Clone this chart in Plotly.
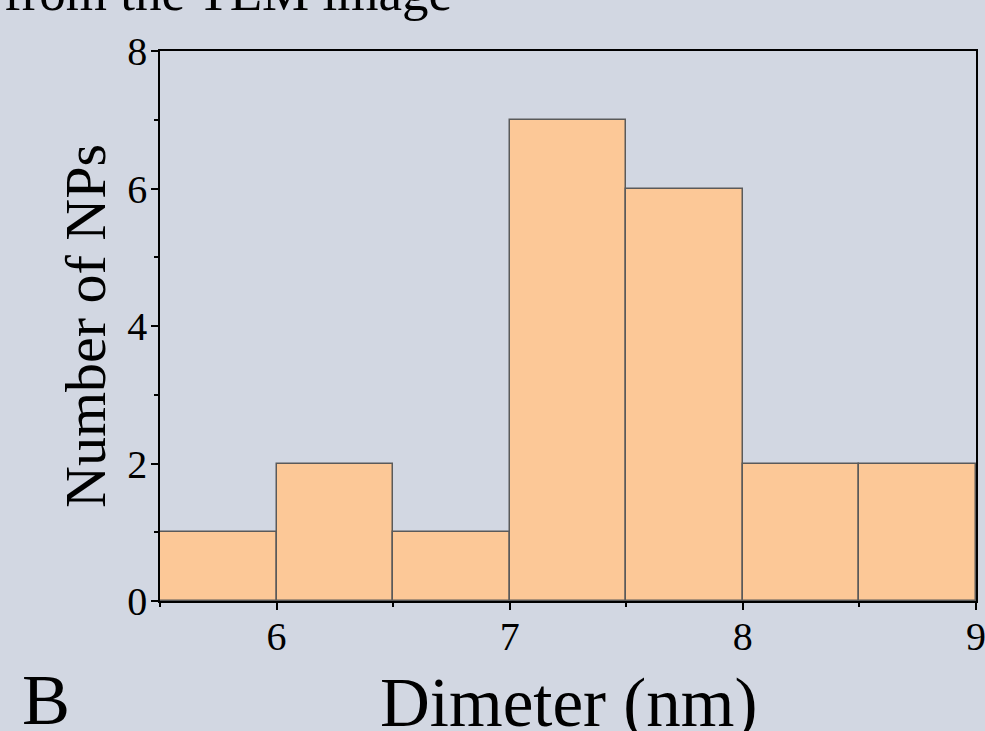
import plotly.graph_objects as go

# Data
bin_centers = [5.75, 6.25, 6.75, 7.25, 7.75, 8.25, 8.75]
counts = [1, 2, 1, 7, 6, 2, 2]
x_ticks = [6, 7, 8, 9]
y_ticks = [0, 2, 4, 6, 8]

W, H = 985, 731
L, R, T, B = 160, 9, 51, 130
PW, PH = W - L - R, H - T - B

def px(x):
    return (x - L) / PW

def py(y):
    return (H - B - y) / PH

FONT = "Liberation Serif, Times New Roman, serif"
BG = "#d2d7e2"

fig = go.Figure()
fig.add_trace(go.Bar(
    x=bin_centers, y=counts, width=0.5,
    marker=dict(color="#fcc897", line=dict(color="#5a5a5a", width=1.5)),
))

fig.update_layout(
    width=W, height=H,
    margin=dict(l=L, r=R, t=T, b=B),
    paper_bgcolor=BG, plot_bgcolor=BG,
    showlegend=False,
    font=dict(family=FONT, color="black"),
    bargap=0,
)
fig.update_xaxes(
    range=[5.5, 9], tickvals=x_ticks, ticktext=[str(v) for v in x_ticks],
    ticks="outside", ticklen=7, tickwidth=1.5, tickcolor="black",
    minor=dict(ticks="outside", dtick=0.5, tick0=5.5, ticklen=4, tickwidth=1.5, tickcolor="black"),
    showline=True, linecolor="black", linewidth=1.5, mirror=True,
    showgrid=False, zeroline=False, automargin=False,
    ticklabelstandoff=-8, ticklabeloverflow="allow",
    tickfont=dict(size=40, family=FONT, color="black"),
)
fig.update_yaxes(
    range=[0, 8], tickvals=y_ticks, ticktext=[str(v) for v in y_ticks],
    ticks="outside", ticklen=7, tickwidth=1.5, tickcolor="black",
    minor=dict(ticks="outside", dtick=1, tick0=0, ticklen=4, tickwidth=1.5, tickcolor="black"),
    showline=True, linecolor="black", linewidth=1.5, mirror=True,
    showgrid=False, zeroline=False, automargin=False,
    ticklabelstandoff=-4, ticklabeloverflow="allow",
    tickfont=dict(size=40, family=FONT, color="black"),
)

annos = [
    dict(text="Dimeter (nm)", x=px(568), y=py(703), size=69, anchor="center", angle=0),
    dict(text="Number of NPs", x=px(85), y=py(326), size=58, anchor="center", angle=-90),
    dict(text="from the TEM image", x=px(2), y=py(-8), size=53, anchor="left", angle=0),
    dict(text="B", x=px(20), y=py(700), size=72, anchor="left", angle=0),
]
for a in annos:
    fig.add_annotation(
        text=a["text"], xref="paper", yref="paper", x=a["x"], y=a["y"],
        xanchor=a["anchor"], yanchor="middle", showarrow=False,
        textangle=a["angle"], font=dict(size=a["size"], family=FONT, color="black"),
    )

fig.write_html("out.html")
